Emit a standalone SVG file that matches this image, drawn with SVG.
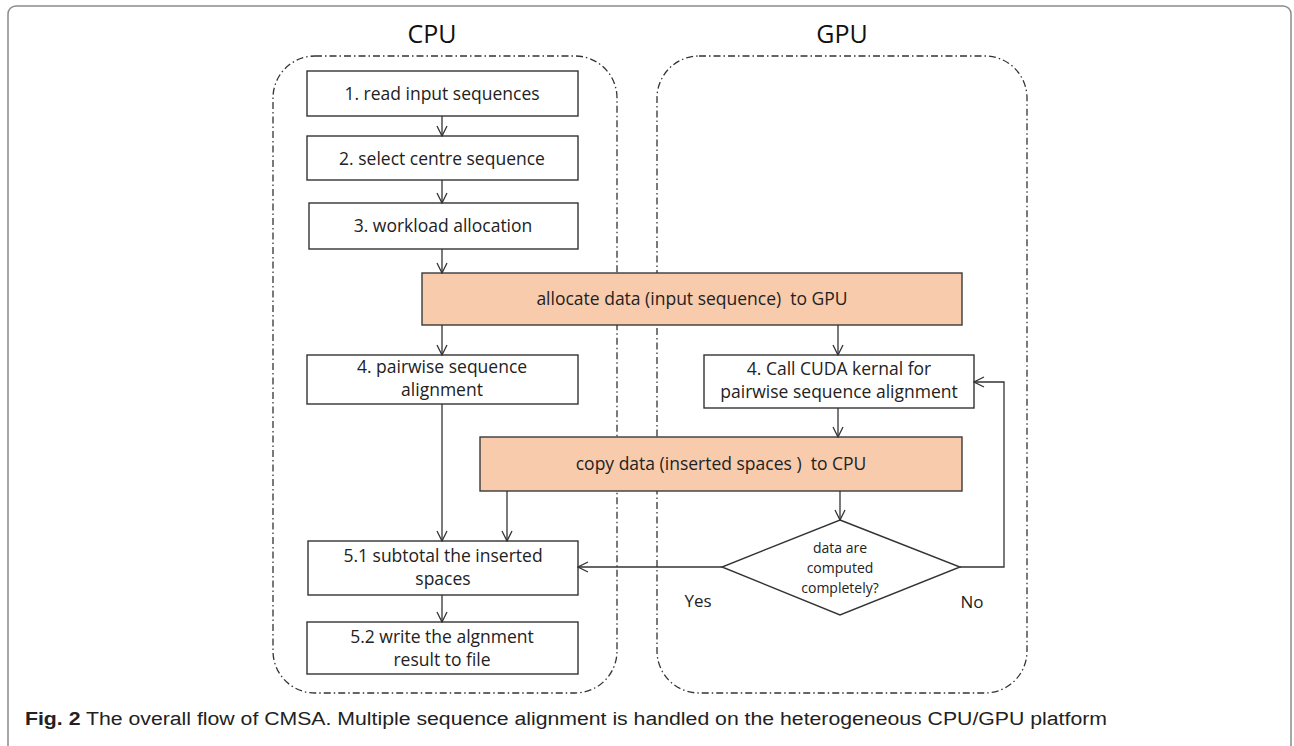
<svg xmlns="http://www.w3.org/2000/svg" width="1294" height="746" viewBox="0 0 1294 746">
<style>
.frame{fill:none;stroke:#8a8a8a;stroke-width:1.5}
.lane{fill:none;stroke:#333;stroke-width:1.3;stroke-dasharray:7 3 1.5 3}
.box{fill:#fff;stroke:#333;stroke-width:1.4}
.pbox{fill:#f8cbad;stroke:#3a3a3a;stroke-width:1.4}
.t{font-family:"Open Sans","Liberation Sans",sans-serif;font-size:17.5px;fill:#222;text-anchor:middle;white-space:pre}
.title{font-family:"Open Sans","Liberation Sans",sans-serif;font-size:25px;fill:#111;text-anchor:middle}
.small{font-family:"Open Sans","Liberation Sans",sans-serif;font-size:14px;fill:#222;text-anchor:middle}
.lbl{font-family:"Open Sans","Liberation Sans",sans-serif;font-size:17px;fill:#222;text-anchor:middle}
.cap{font-family:"Liberation Sans Narrow","Liberation Sans",sans-serif;font-size:18px;fill:#222}
.edge{fill:none;stroke:#333;stroke-width:1.3}
</style>
<defs>
<marker id="arr" viewBox="0 0 12 12" refX="11" refY="6" markerWidth="12" markerHeight="12" markerUnits="userSpaceOnUse" orient="auto">
<path d="M1,1 L11,6 L1,11" fill="none" stroke="#333" stroke-width="1.3"/>
</marker>
</defs>
<rect class="frame" x="8" y="6" width="1283" height="748" rx="8"/>
<g id="cpu-lane">
<rect class="lane" x="273" y="56" width="344" height="637" rx="42"/>
<text class="title" x="432" y="43">CPU</text>
</g>
<g id="gpu-lane">
<rect class="lane" x="657" y="56" width="370" height="637" rx="42"/>
<text class="title" x="842" y="43">GPU</text>
</g>
<g id="n1"><rect class="box" x="307" y="71" width="271" height="45"/><text class="t" x="442" y="100">1. read input sequences</text></g>
<g id="n2"><rect class="box" x="307" y="136" width="271" height="44"/><text class="t" x="442" y="165">2. select centre sequence</text></g>
<g id="n3"><rect class="box" x="309" y="203" width="269" height="46"/><text class="t" x="443" y="232">3. workload allocation</text></g>
<g id="alloc"><rect class="pbox" x="422" y="273" width="540" height="52"/><text class="t" x="692" y="305">allocate data (input sequence)  to GPU</text></g>
<g id="n4cpu"><rect class="box" x="307" y="355" width="271" height="49"/><text class="t" x="442" y="373">4. pairwise sequence</text><text class="t" x="442" y="396">alignment</text></g>
<g id="n4gpu"><rect class="box" x="704" y="355" width="270" height="53"/><text class="t" x="839" y="375">4. Call CUDA kernal for</text><text class="t" x="839" y="398">pairwise sequence alignment</text></g>
<g id="copy"><rect class="pbox" x="480" y="437" width="482" height="54"/><text class="t" x="721" y="470">copy data (inserted spaces )  to CPU</text></g>
<g id="n51"><rect class="box" x="308" y="541" width="270" height="54"/><text class="t" x="443" y="562">5.1 subtotal the inserted</text><text class="t" x="443" y="585">spaces</text></g>
<g id="n52"><rect class="box" x="307" y="622" width="271" height="52"/><text class="t" x="442" y="643">5.2 write the algnment</text><text class="t" x="442" y="666">result to file</text></g>
<g id="decision"><polygon class="box" points="840,520 960,567 840,615 722,567"/><text class="small" x="840" y="553">data are</text><text class="small" x="840" y="573">computed</text><text class="small" x="840" y="593">completely?</text></g>
<g id="connectors">
<line class="edge" x1="442" y1="116" x2="442" y2="136" marker-end="url(#arr)"/>
<line class="edge" x1="442" y1="180" x2="442" y2="203" marker-end="url(#arr)"/>
<line class="edge" x1="442" y1="249" x2="442" y2="273" marker-end="url(#arr)"/>
<line class="edge" x1="442" y1="325" x2="442" y2="355" marker-end="url(#arr)"/>
<line class="edge" x1="838" y1="325" x2="838" y2="355" marker-end="url(#arr)"/>
<line class="edge" x1="838" y1="408" x2="838" y2="437" marker-end="url(#arr)"/>
<line class="edge" x1="442" y1="404" x2="442" y2="541" marker-end="url(#arr)"/>
<line class="edge" x1="507" y1="491" x2="507" y2="541" marker-end="url(#arr)"/>
<line class="edge" x1="840" y1="491" x2="840" y2="520" marker-end="url(#arr)"/>
<line class="edge" x1="442" y1="595" x2="442" y2="622" marker-end="url(#arr)"/>
<line class="edge" x1="722" y1="567" x2="578" y2="567" marker-end="url(#arr)"/>
<polyline class="edge" points="960,567 1004,567 1004,382 974,382" marker-end="url(#arr)"/>
<text class="lbl" x="698" y="607">Yes</text>
<text class="lbl" x="972" y="608">No</text>
</g>
<text class="cap" x="25" y="725" textLength="1082" lengthAdjust="spacingAndGlyphs"><tspan font-weight="bold">Fig. 2</tspan> The overall flow of CMSA. Multiple sequence alignment is handled on the heterogeneous CPU/GPU platform</text>
</svg>
